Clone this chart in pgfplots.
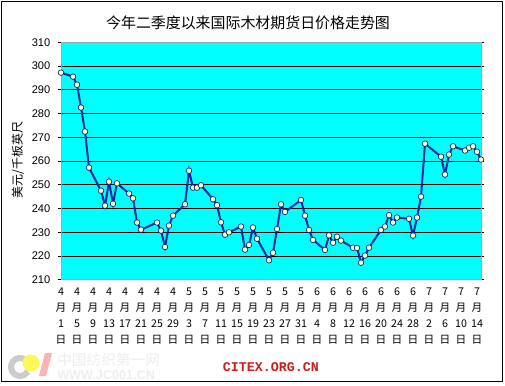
\documentclass[border=0pt]{standalone}
\usepackage{pgfplots}
\pgfplotsset{compat=1.18}
\usepackage{fontspec}
\setmainfont{Liberation Sans}
\setmonofont{Liberation Mono}
\newfontfamily\cjk{Noto Sans CJK SC}
\definecolor{plotbg}{RGB}{0,255,255}
\definecolor{linec}{RGB}{16,40,160}
\definecolor{markc}{RGB}{255,255,190}
\definecolor{citex}{RGB}{200,30,30}

\pgfplotstableread{
day val
0 297.2
3 295.5
4 292.1
5 282.5
6 272.4
7 257.2
10 247.5
11 241.2
12 251.3
13 242.0
14 250.6
17 246.3
18 244.3
19 234.1
20 231.1
24 234.1
25 230.7
26 223.8
27 232.8
28 237.0
31 241.8
32 255.9
33 248.8
34 248.8
35 249.8
38 243.9
39 241.4
40 234.2
41 229.0
42 230.0
45 232.4
46 222.7
47 224.7
48 232.0
49 227.3
52 218.2
53 221.4
54 231.4
55 241.8
56 238.6
60 243.6
61 237.0
62 231.0
63 226.8
66 222.6
67 228.7
68 225.6
69 228.1
70 226.5
73 223.5
74 223.4
75 217.2
76 220.2
77 223.5
80 231.0
81 232.4
82 237.2
83 234.1
84 236.2
87 235.7
88 228.6
89 236.2
90 245.0
91 267.3
95 261.8
96 254.3
97 262.7
98 266.2
101 264.4
102 265.6
103 266.2
104 263.9
105 260.6
}\pricedata

\begin{document}
\begin{tikzpicture}[x=0.75pt,y=0.75pt]
\path[use as bounding box, fill=white] (0,0) rectangle (505,385);
\draw[black,line width=0.75pt] (1.5,3.5) rectangle (502.5,383.5);

% watermark logo
\draw[gray!40,line width=4.5pt] ([shift={(30:9)}]20,18) arc (30:330:9);
\fill[yellow!65!white] (31,22) circle (8.5);
\fill[red!30!white] (39,9) -- (46,9) -- (52,32) -- (45,32) -- cycle;
\node[text=gray!13,font=\cjk\fontsize{11}{12}\selectfont,anchor=west,inner sep=0pt] at (57,25) {中国纺织第一网};
\node[text=gray!13,font=\bfseries\fontsize{9.5}{10}\selectfont,anchor=west,inner sep=0pt] at (57,10) {WWW.JC001.CN};

\node[font=\cjk\fontsize{11.2}{12}\selectfont] at (248,362) {今年二季度以来国际木材期货日价格走势图};
\node[font=\cjk\fontsize{9}{10}\selectfont,rotate=90] at (18,225) {美元/千板英尺};
\node[font=\ttfamily\bfseries\fontsize{10}{10}\selectfont,text=citex] at (271,18) {CITEX.ORG.CN};

\begin{axis}[
  at={(45.75pt,78.9pt)}, anchor=south west,
  scale only axis, width=315pt, height=178.2pt,
  xmin=0, xmax=105, ymin=210, ymax=310,
  axis background/.style={fill=plotbg},
  axis line style={draw=gray!70,line width=0.6pt},
  xtick={0,4,...,104},
  xticklabels={{4\\月\\1\\日},{4\\月\\5\\日},{4\\月\\9\\日},{4\\月\\13\\日},{4\\月\\17\\日},{4\\月\\21\\日},{4\\月\\25\\日},{4\\月\\29\\日},
    {5\\月\\3\\日},{5\\月\\7\\日},{5\\月\\11\\日},{5\\月\\15\\日},{5\\月\\19\\日},{5\\月\\23\\日},{5\\月\\27\\日},{5\\月\\31\\日},
    {6\\月\\4\\日},{6\\月\\8\\日},{6\\月\\12\\日},{6\\月\\16\\日},{6\\月\\20\\日},{6\\月\\24\\日},{6\\月\\28\\日},
    {7\\月\\2\\日},{7\\月\\6\\日},{7\\月\\10\\日},{7\\月\\14\\日}},
  xticklabel style={font=\cjk\fontsize{8}{12.2}\selectfont,align=center,yshift=-2pt,inner xsep=0pt,inner ysep=1pt},
  xtick style={draw=none},
  ytick={210,220,...,310},
  yticklabel style={font=\fontsize{8.3}{10}\selectfont,xshift=-2pt},
  /pgf/number format/assume math mode=true,
  ytick style={draw=black,line width=0.5pt},
  tick align=outside, major tick length=2.5pt,
  ymajorgrids, grid style={draw=black,line width=0.55pt},
  clip=false,
]
\addplot[color=linec,line width=1.5pt,mark=*,
  mark options={fill=markc,draw=linec!80!black,line width=0.5pt,scale=1},mark size=2.1pt]
  table[x=day,y=val]{\pricedata};
\end{axis}
\end{tikzpicture}
\end{document}
